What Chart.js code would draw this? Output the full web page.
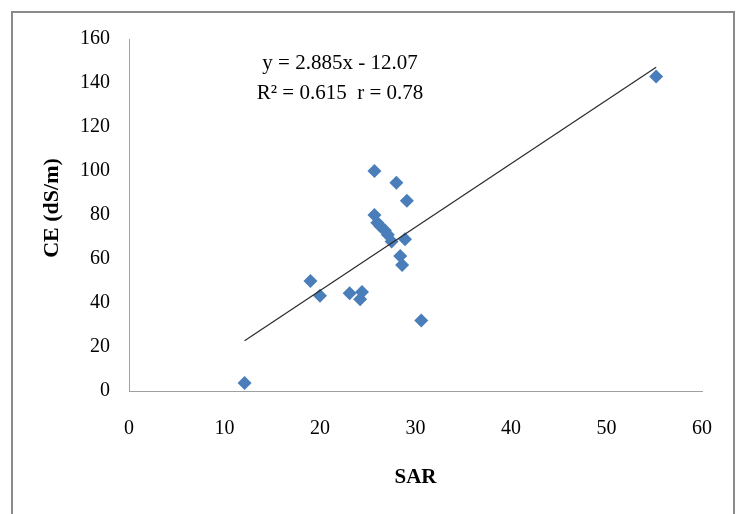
<!DOCTYPE html>
<html lang="en">
<head>
    <meta charset="UTF-8">
    <title>CE vs SAR</title>
    <script src="https://cdn.jsdelivr.net/npm/chart.js"></script>
    <style>
        body { margin: 0; background: #fff; }
        #wrap { width: 738px; height: 514px; }
    </style>
</head>
<body>
<div id="wrap"><canvas id="chart" width="738" height="514"></canvas></div>

<script>
    // values
    const sar = [25.7, 28.0, 29.1, 25.7, 26.0, 26.3, 26.8, 27.1, 27.5, 28.9, 28.4, 28.6, 19.0, 20.0, 23.1, 24.4, 24.2, 30.6, 12.1, 55.2];
    const ce  = [100, 94.7, 86.5, 80, 76.5, 75, 73, 71, 68, 69, 61.4, 57.3, 50, 43.3, 44.4, 45, 41.7, 32, 3.6, 143];
    const slope = 2.885;
    const intercept = -12.07;
    const eqLines = ['y = 2.885x - 12.07', 'R\u00b2 = 0.615  r = 0.78'];

    const points = sar.map((x, i) => ({x: x, y: ce[i]}));
    const xMin = Math.min(...sar), xMax = Math.max(...sar);
    const trend = [xMin, xMax].map(x => ({x: x, y: slope * x + intercept}));

    const serif = '"Liberation Serif", "Times New Roman", serif';

    const decor = {
        id: 'decor',
        beforeDraw(chart) {
            const ctx = chart.ctx;
            ctx.save();
            ctx.fillStyle = '#fff';
            ctx.fillRect(0, 0, chart.width, chart.height);
            ctx.strokeStyle = '#8a8a8a';
            ctx.lineWidth = 2;
            ctx.strokeRect(12, 12, 722, 600);
            ctx.restore();
        },
        afterDraw(chart) {
            const ctx = chart.ctx;
            const a = chart.chartArea;
            ctx.save();
            ctx.fillStyle = '#000';
            ctx.textAlign = 'center';
            ctx.textBaseline = 'middle';
            // equation
            ctx.font = '21px ' + serif;
            ctx.fillText(eqLines[0], 340, 63);
            ctx.fillText(eqLines[1], 340, 93);
            // axis titles
            ctx.font = 'bold 21px ' + serif;
            ctx.fillText('SAR', (a.left + a.right) / 2, 478);
            ctx.font = 'bold 22px ' + serif;
            ctx.translate(52, 208);
            ctx.rotate(-Math.PI / 2);
            ctx.fillText('CE (dS/m)', 0, 0);
            ctx.restore();
        }
    };

    new Chart(document.getElementById('chart'), {
        type: 'scatter',
        data: {
            datasets: [{
                type: 'line',
                label: 'trend',
                data: trend,
                borderColor: '#2a2a2a',
                borderWidth: 1.2,
                pointRadius: 0,
                fill: false,
                order: 0
            }, {
                label: 'CE',
                data: points,
                pointStyle: 'rectRot',
                pointRadius: 7,
                backgroundColor: '#4a7ebb',
                borderColor: '#4a7ebb',
                borderWidth: 0,
                order: 1
            }]
        },
        options: {
            responsive: false,
            animation: false,
            layout: { padding: { left: 0, top: 39, right: 36, bottom: 0 } },
            plugins: { legend: { display: false }, tooltip: { enabled: false } },
            scales: {
                x: {
                    type: 'linear',
                    min: 0, max: 60,
                    afterFit(scale) { scale.height = 123; },
                    grid: { display: false, drawTicks: false },
                    border: { display: true, color: '#a0a0a0', width: 1 },
                    ticks: { stepSize: 10, padding: 26, color: '#000', font: { family: serif, size: 20 } }
                },
                y: {
                    min: 0, max: 160,
                    afterFit(scale) { scale.width = 129; },
                    grid: { display: false, drawTicks: false },
                    border: { display: true, color: '#a0a0a0', width: 1 },
                    ticks: { stepSize: 20, padding: 19, color: '#000', font: { family: serif, size: 20 } }
                }
            }
        },
        plugins: [decor]
    });
</script>
</body>
</html>
